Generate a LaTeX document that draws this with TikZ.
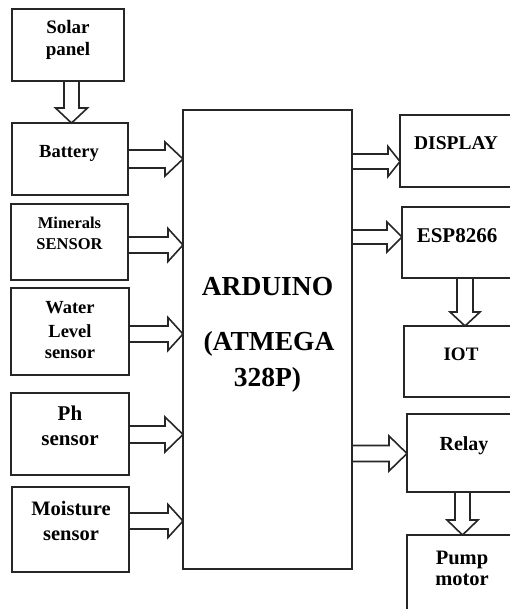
\documentclass[tikz,border=0pt]{standalone}
\usepackage{fontspec}
\setmainfont{Liberation Serif}
\usetikzlibrary{calc}
\newcommand\fsz[1]{\fontsize{#1}{#1}\selectfont\bfseries}
\tikzset{
  box/.style={draw=black!85, line width=1.7pt, rectangle, inner sep=0pt, outer sep=0pt},
  txt/.style={inner sep=0pt, anchor=base, text=black},
  arr/.style={draw=black!85, line width=1.6pt, fill=white, line join=miter},
}
% horizontal block arrow: start, tip, shaft half width, head half width, head length
\newcommand\harr[5]{\draw[arr] let \p1=(#1), \p2=(#2) in
  (\x1,{\y1+#3pt}) -- ({\x2-#5pt},{\y1+#3pt}) -- ({\x2-#5pt},{\y1+#4pt}) -- (\x2,\y1)
  -- ({\x2-#5pt},{\y1-#4pt}) -- ({\x2-#5pt},{\y1-#3pt}) -- (\x1,{\y1-#3pt}) -- cycle;}
% vertical (downward) block arrow
\newcommand\varr[5]{\draw[arr] let \p1=(#1), \p2=(#2) in
  ({\x1-#3pt},\y1) -- ({\x1-#3pt},{\y2+#5pt}) -- ({\x1-#4pt},{\y2+#5pt}) -- (\x1,\y2)
  -- ({\x1+#4pt},{\y2+#5pt}) -- ({\x1+#3pt},{\y2+#5pt}) -- ({\x1+#3pt},\y1) -- cycle;}
\begin{document}
\begin{tikzpicture}[x=1pt,y=-1pt]
\useasboundingbox (0,0) rectangle (510,609);
\clip (0,0) rectangle (510,609);
\fill[white] (0,0) rectangle (510,609);
% boxes
\node[box, minimum width=112pt, minimum height=72pt] (solar) at (68,45) {};
\node[box, minimum width=116pt, minimum height=72pt] (battery) at (70,159) {};
\node[box, minimum width=117pt, minimum height=76pt] (minerals) at (69.5,242) {};
\node[box, minimum width=118pt, minimum height=87pt] (water) at (70,331.5) {};
\node[box, minimum width=118pt, minimum height=82pt] (ph) at (70,434) {};
\node[box, minimum width=117pt, minimum height=85pt] (moist) at (70.5,529.5) {};
\node[box, minimum width=169pt, minimum height=459pt] (ard) at (267.5,339.5) {};
\node[box, minimum width=130pt, minimum height=72pt] (display) at (465,151) {};
\node[box, minimum width=128pt, minimum height=71pt] (esp) at (466,242.5) {};
\node[box, minimum width=126pt, minimum height=71pt] (iot) at (467,361.5) {};
\node[box, minimum width=123pt, minimum height=78pt] (relay) at (468.5,453) {};
\node[box, minimum width=123pt, minimum height=105pt] (pump) at (468.5,587.5) {};
% texts
\node[txt, font=\fsz{19}] (t-solar1) at (68,34) {Solar};
\node[txt, font=\fsz{19}] (t-solar2) at (68,56) {panel};
\node[txt, font=\fsz{18.5}] (t-bat) at (69,158) {Battery};
\node[txt, font=\fsz{16.5}] (t-min1) at (69.5,229) {Minerals};
\node[txt, font=\fsz{16.5}] (t-min2) at (69.5,250) {SENSOR};
\node[txt, font=\fsz{18.5}] (t-wat1) at (70,313) {Water};
\node[txt, font=\fsz{18.5}] (t-wat2) at (70,337) {Level};
\node[txt, font=\fsz{18.5}] (t-wat3) at (70,358) {sensor};
\node[txt, font=\fsz{21}] (t-ph1) at (70,420) {Ph};
\node[txt, font=\fsz{21}] (t-ph2) at (70,445) {sensor};
\node[txt, font=\fsz{20.5}] (t-moi1) at (71,515) {Moisture};
\node[txt, font=\fsz{20.5}] (t-moi2) at (71,540) {sensor};
\node[txt, font=\fsz{27.5}] (t-ard1) at (267.5,295) {ARDUINO};
\node[txt, font=\fsz{27.5}] (t-ard2) at (269,350) {(ATMEGA};
\node[txt, font=\fsz{27.5}] (t-ard3) at (267.5,386) {328P)};
\node[txt, font=\fsz{19.5}] (t-disp) at (456,150) {DISPLAY};
\node[txt, font=\fsz{21}] (t-esp) at (457,242) {ESP8266};
\node[txt, font=\fsz{19}] (t-iot) at (461,360) {IOT};
\node[txt, font=\fsz{20}] (t-relay) at (464,450) {Relay};
\node[txt, font=\fsz{20.5}] (t-pump1) at (462,564) {Pump};
\node[txt, font=\fsz{20.5}] (t-pump2) at (462,585) {motor};
% arrows
\varr{solar.south -| 71.5,0}{battery.north -| 71.5,0}{7.5}{16}{15}
\harr{battery.east |- 0,159}{ard.west |- 0,159}{9}{17}{18}
\harr{minerals.east |- 0,245}{ard.west |- 0,245}{8}{16.5}{15}
\harr{water.east |- 0,334}{ard.west |- 0,334}{8}{16.5}{15}
\harr{ph.east |- 0,434.5}{ard.west |- 0,434.5}{8.5}{17.5}{18}
\harr{moist.east |- 0,521}{ard.west |- 0,521}{8}{16.5}{15}
\harr{ard.east |- 0,161.5}{display.west |- 0,161.5}{7.5}{15}{12}
\harr{ard.east |- 0,237}{esp.west |- 0,237}{7}{15}{15}
\harr{ard.east |- 0,453.5}{relay.west |- 0,453.5}{8}{17.5}{18}
\varr{esp.south -| 465,0}{iot.north -| 465,0}{8}{15}{14}
\varr{relay.south -| 462.5,0}{pump.north -| 462.5,0}{7.5}{15.5}{15}
\end{tikzpicture}
\end{document}
